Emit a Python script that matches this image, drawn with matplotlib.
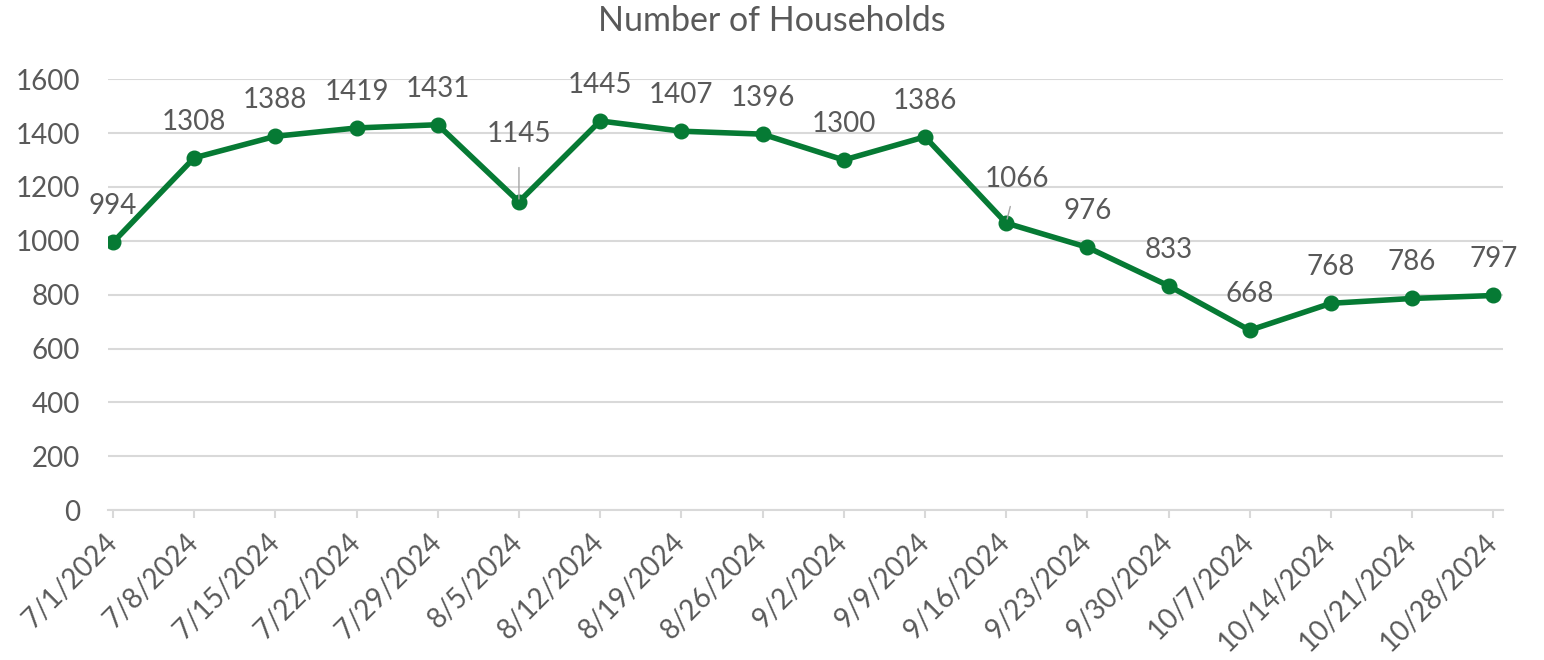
import numpy as np
import matplotlib
matplotlib.use('Agg')
import matplotlib.pyplot as plt

# Weekly household counts
dates = ['7/1/2024', '7/8/2024', '7/15/2024', '7/22/2024', '7/29/2024', '8/5/2024',
         '8/12/2024', '8/19/2024', '8/26/2024', '9/2/2024', '9/9/2024', '9/16/2024',
         '9/23/2024', '9/30/2024', '10/7/2024', '10/14/2024', '10/21/2024', '10/28/2024']
households = [994, 1308, 1388, 1419, 1431, 1145, 1445, 1407, 1396, 1300, 1386, 1066,
              976, 833, 668, 768, 786, 797]
y_ticks = [0, 200, 400, 600, 800, 1000, 1200, 1400, 1600]

plt.rcParams['font.family'] = ['Lato', 'DejaVu Sans']

LINE = '#067A34'
TEXT = '#595959'
GRID = '#D9D9D9'
FS = 20

fig = plt.figure(figsize=(15.44, 6.6), dpi=100)
ax = fig.add_axes([0.070, 0.227, 0.9035, 0.653])

x = np.arange(len(dates))
ax.plot(x, households, color=LINE, lw=4, marker='o', markersize=10.5,
        solid_joinstyle='round', zorder=3)

# data labels (a couple of them were pushed aside, with leader lines)
for i, v in enumerate(households):
    if i == 5:
        ax.annotate(str(v), (i, v), xytext=(0, 49), textcoords='offset points',
                    ha='center', va='center', fontsize=FS, color=TEXT,
                    arrowprops=dict(arrowstyle='-', color='#A6A6A6', lw=1,
                                    shrinkA=13, shrinkB=2))
    elif i == 11:
        ax.annotate(str(v), (i, v), xytext=(8, 32), textcoords='offset points',
                    ha='center', va='center', fontsize=FS, color=TEXT,
                    arrowprops=dict(arrowstyle='-', color='#A6A6A6', lw=1,
                                    shrinkA=9, shrinkB=3))
    else:
        ax.annotate(str(v), (i, v), xytext=(0, 26), textcoords='offset points',
                    ha='center', va='center', fontsize=FS, color=TEXT)

ax.set_ylim(0, 1600)
ax.set_yticks(y_ticks)
ax.set_xlim(-0.06, 17.12)
ax.set_xticks(x)
ax.set_xticklabels(dates, rotation=45, ha='right', va='center', rotation_mode='anchor')

ax.grid(axis='y', color=GRID, lw=1.5)
ax.set_axisbelow(True)
for s in ['top', 'right', 'left']:
    ax.spines[s].set_visible(False)
ax.spines['bottom'].set_color(GRID)
ax.spines['bottom'].set_linewidth(1.5)

ax.tick_params(axis='y', length=0, pad=20, labelsize=FS, labelcolor=TEXT)
ax.tick_params(axis='x', length=6, width=1.5, color=GRID, pad=14,
               labelsize=FS, labelcolor=TEXT)

fig.text(0.5, 0.968, 'Number of Households', ha='center', va='center',
         fontsize=24.5, color=TEXT)

fig.savefig('out.png', dpi=100)
